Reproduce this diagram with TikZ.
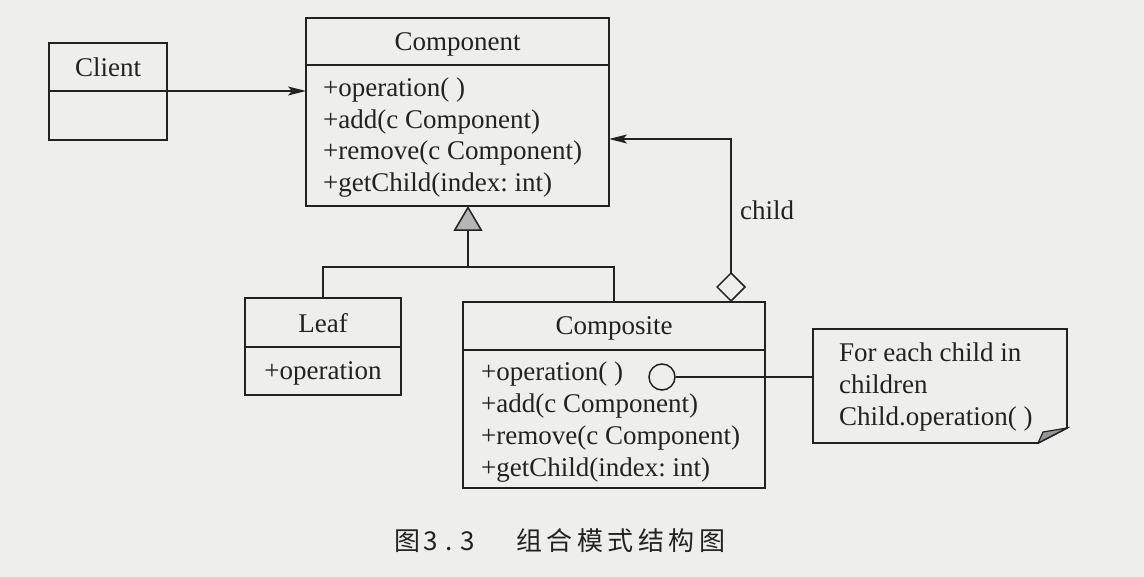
\documentclass[tikz,border=0pt]{standalone}
\usepackage{fontspec}
\setmainfont{Liberation Serif}
\newfontfamily\cjk{Noto Sans CJK SC}
\usetikzlibrary{arrows.meta,positioning}
\definecolor{ink}{RGB}{34,34,34}
\definecolor{paper}{RGB}{238,238,236}
\definecolor{foldgray}{RGB}{150,150,150}
\tikzset{
  cls/.style={draw=ink, line width=1.9pt, inner sep=0pt, outer sep=0pt, anchor=north west,
    text=ink, text depth=0pt, font=\fontsize{27}{31.5}\selectfont},
  members/.style={text=ink, inner sep=0pt, anchor=west, align=left,
    font=\fontsize{27}{31.7}\selectfont},
  conn/.style={draw=ink, line width=1.5pt},
  lbl/.style={text=ink, inner sep=0pt, font=\fontsize{27}{32}\selectfont},
  head/.style={-{Stealth[length=18pt,width=9pt,inset=4pt]}},
}
\begin{document}
\frenchspacing
\begin{tikzpicture}[x=1pt,y=-1pt]
\fill[paper] (0,0) rectangle (1144,577);
\useasboundingbox (0,0) rectangle (1144,577);

% Client
\node[cls, minimum width=118pt, minimum height=48pt] (clientT) at (49,43) {Client};
\node[cls, minimum width=118pt, minimum height=49pt] (clientB) at (49,91) {};

% Component
\node[cls, minimum width=303pt, minimum height=47pt] (compT) at (306,18) {Component};
\node[cls, minimum width=303pt, minimum height=141pt] (compB) at (306,65) {};
\node[members] (compM) at ([xshift=17pt,yshift=-2pt]compB.west)
  {+operation( )\\+add(c Component)\\+remove(c Component)\\+getChild(index: int)};

% Leaf
\node[cls, minimum width=156pt, minimum height=49pt] (leafT) at (245,298) {Leaf};
\node[cls, minimum width=156pt, minimum height=48pt] (leafB) at (245,347) {+operation};

% Composite
\node[cls, minimum width=302pt, minimum height=48pt] (compoT) at (463,302) {Composite};
\node[cls, minimum width=302pt, minimum height=138pt] (compoB) at (463,350) {};
\node[members] (compoM) at ([xshift=18pt,yshift=-3pt]compoB.west)
  {+operation( )\\+add(c Component)\\+remove(c Component)\\+getChild(index: int)};

% Note
\node[inner sep=0pt, outer sep=0pt, anchor=north west, minimum width=254pt, minimum height=114pt] (note) at (813,329) {};
\draw[ink, line width=1.9pt, fill=paper] (note.north west) -- (note.north east) -- ([yshift=15pt]note.south east)
  -- ([xshift=-29pt]note.south east) -- (note.south west) -- cycle;
\fill[foldgray, draw=ink, line width=1.2pt] ([yshift=15pt]note.south east) -- ([xshift=-24pt,yshift=11pt]note.south east)
  -- ([xshift=-29pt]note.south east) -- cycle;
\node[lbl, anchor=west, align=left] (notetext) at ([xshift=26pt,yshift=-1pt]note.west)
  {For each child in\\children\\Child.operation( )};

% Client -> Component
\draw[conn, head] (clientB.north east) -- (clientB.north east -| compB.west);

% Generalization
\coordinate (joint) at (468,267);
\draw[conn] (leafT.north) |- (joint) -| (compoT.north);
\draw[conn, -{Triangle[length=25pt,width=29pt,fill=foldgray!70,line width=1.5pt]}] (joint) -- (joint |- compB.south);

% Aggregation
\coordinate (aggS) at (731,302);
\draw[conn, {Diamond[open,length=30pt,width=30pt,fill=paper]}-{Stealth[length=18pt,width=9pt,inset=4pt]}]
  (aggS) |- ([yshift=-3.5pt]compB.east);
\node[lbl, anchor=west] (childlbl) at (740,210) {child};

% Note connector
\node[draw=ink, line width=1.5pt, circle, minimum size=26pt, inner sep=0pt] (dot) at (662,377) {};
\draw[conn] (dot.east) -- (dot.east -| note.west);

% Caption
\node[text=ink, inner sep=0pt, anchor=west, font=\cjk\fontsize{26}{30}\selectfont] (caption) at (394,541)
  {图\kern3pt 3\kern8pt.\kern8pt3\kern41pt 组\kern4.5pt 合\kern4.5pt 模\kern4.5pt 式\kern4.5pt 结\kern4.5pt 构\kern4.5pt 图};
\end{tikzpicture}
\end{document}
